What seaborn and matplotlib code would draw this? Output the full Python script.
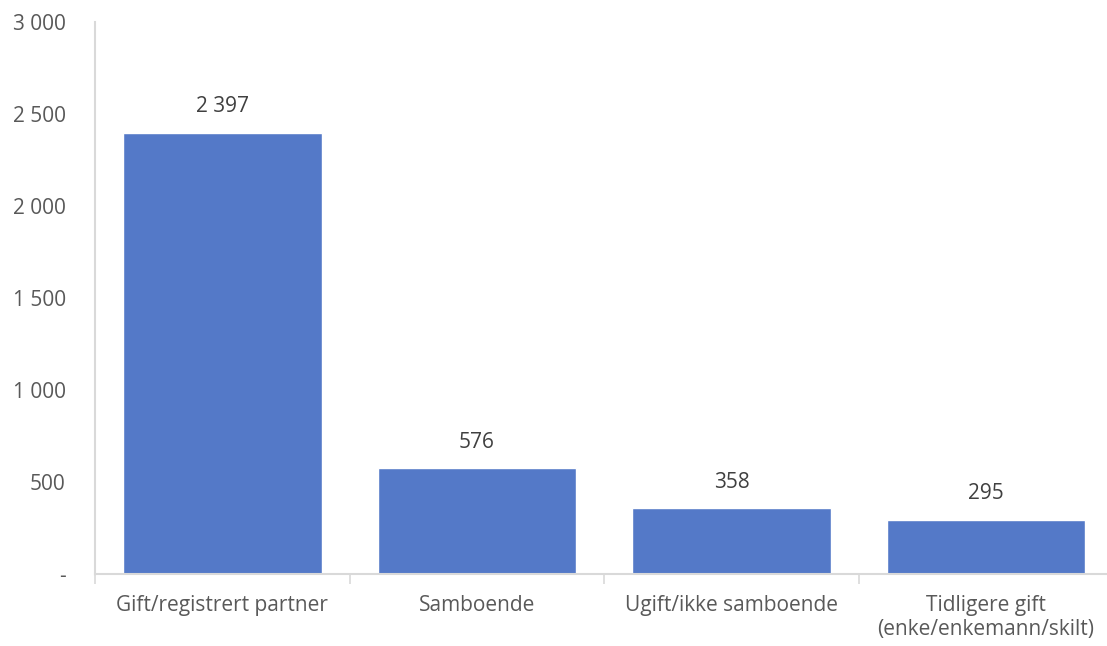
import matplotlib
matplotlib.use("Agg")
import matplotlib.pyplot as plt
import matplotlib.ticker as mticker
import pandas as pd
import seaborn as sns

# Data
categories = ["Gift/registrert partner", "Samboende", "Ugift/ikke samboende",
              "Tidligere gift\n(enke/enkemann/skilt)"]
values = [2397, 576, 358, 295]
y_ticks = [0, 500, 1000, 1500, 2000, 2500, 3000]

df = pd.DataFrame({"status": categories, "antall": values})

sns.set_style("white")
plt.rcParams["font.family"] = ["Open Sans", "DejaVu Sans"]

fig = plt.figure(figsize=(11.07, 6.46), dpi=100)
ax = fig.add_axes([0.0858, 0.1115, 0.92, 0.855])

sns.barplot(data=df, x="status", y="antall", color="#5479C8", saturation=1,
            width=0.78, ax=ax)

def fmt(v, pos=None):
    if v == 0:
        return "-"
    return f"{int(v):,}".replace(",", " ")

for i, v in enumerate(values):
    ax.annotate(fmt(v), (i, v), xytext=(0, 11), textcoords="offset points",
                ha="center", va="bottom", fontsize=15, color="#404040")

ax.set_ylim(0, 3000)
ax.set_xlim(-0.5, 3.5)
ax.set_yticks(y_ticks)
ax.yaxis.set_major_formatter(mticker.FuncFormatter(fmt))
ax.set_xlabel("")
ax.set_ylabel("")

ax.xaxis.set_minor_locator(mticker.FixedLocator([-0.5, 0.5, 1.5, 2.5, 3.5]))
ax.tick_params(axis="x", which="major", length=0, pad=15, labelsize=15,
               labelcolor="#595959")
ax.tick_params(axis="x", which="minor", length=7, width=1.2, color="#D9D9D9",
               direction="out", bottom=True)
ax.tick_params(axis="y", length=0, pad=21, labelsize=15, labelcolor="#595959")
for lbl in ax.get_yticklabels():
    lbl.set_horizontalalignment("right")

sns.despine(ax=ax, top=True, right=True)
for side in ["left", "bottom"]:
    ax.spines[side].set_color("#D9D9D9")
    ax.spines[side].set_linewidth(1.5)

fig.savefig("out.png", dpi=100)
